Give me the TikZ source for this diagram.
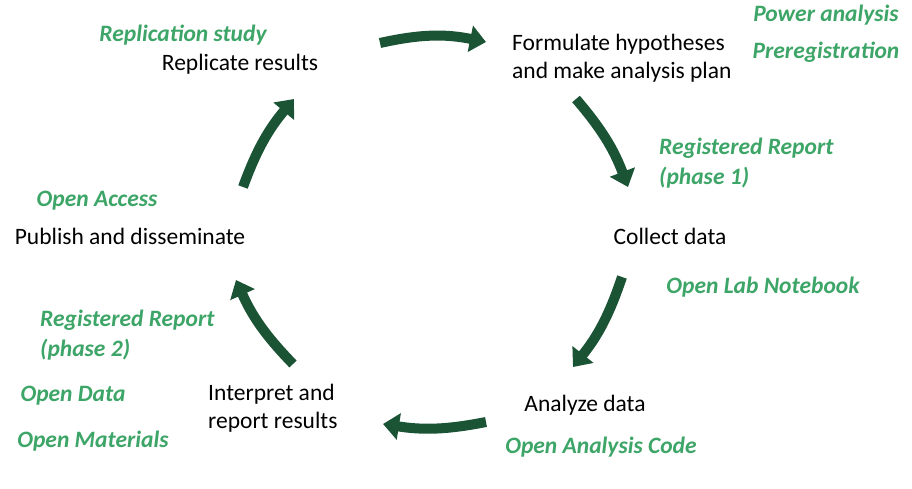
\documentclass[tikz,border=0pt]{standalone}
\usepackage{fontspec}
\setmainfont{Carlito}
\usetikzlibrary{arrows.meta,positioning}
\definecolor{cycgreen}{HTML}{1B5335}
\definecolor{tagcol}{HTML}{3DA567}
\begin{document}
\begin{tikzpicture}
  [x=1pt,y=-1pt,
    stage/.style={font=\fontsize{23.5}{28.5}\selectfont, align=left, inner sep=0pt},
    tag/.style={font=\fontsize{23.5}{29.5}\selectfont\bfseries\itshape, text=tagcol, align=left, inner sep=0pt},
    loop arrow/.style={draw=cycgreen, line width=10pt, -{Triangle[length=16pt,width=26pt]}},
  ]
  \useasboundingbox (0,0) rectangle (912,489);
  % stages of the cycle
  \node[stage] (replicate) at (240,64) {Replicate results};
  \node[stage, anchor=west] (formulate) at (512,58) {Formulate hypotheses\\and make analysis plan};
  \node[stage] (collect) at (670,236) {Collect data};
  \node[stage] (analyze) at (585,405) {Analyze data};
  \node[stage, anchor=west] (interpret) at (208,408) {Interpret and\\report results};
  \node[stage] (publish) at (130,236) {Publish and disseminate};
  % open science practices
  \node[tag] (replstudy) at (183,35) {Replication study};
  \node[tag] (power) at (826,15) {Power analysis};
  \node[tag] (prereg) at (826,52) {Preregistration};
  \node[tag, anchor=west] (rr1) at (659,163) {Registered Report\\(phase 1)};
  \node[tag] (labnb) at (763,287) {Open Lab Notebook};
  \node[tag] (code) at (601,447) {Open Analysis Code};
  \node[tag, anchor=west] (rr2) at (40,335) {Registered Report\\(phase 2)};
  \node[tag] (data) at (73,396) {Open Data};
  \node[tag] (materials) at (93,441) {Open Materials};
  \node[tag] (access) at (97,201) {Open Access};
  % arrows
  \coordinate (a1) at (380,43); \coordinate (b1) at (486,42);
  \coordinate (a2) at (576,99); \coordinate (b2) at (628,187);
  \coordinate (a3) at (622,277); \coordinate (b3) at (573,367);
  \coordinate (a4) at (486,422); \coordinate (b4) at (383,424);
  \coordinate (a5) at (293,364); \coordinate (b5) at (236,280);
  \coordinate (a6) at (243,187); \coordinate (b6) at (294,99);
  \draw[loop arrow] (a1) to[bend left=12] (b1);
  \draw[loop arrow] (a2) to[bend left=10] (b2);
  \draw[loop arrow] (a3) to[bend left=10] (b3);
  \draw[loop arrow] (a4) to[bend left=10] (b4);
  \draw[loop arrow] (a5) to[bend left=10] (b5);
  \draw[loop arrow] (a6) to[bend left=10] (b6);
\end{tikzpicture}
\end{document}
